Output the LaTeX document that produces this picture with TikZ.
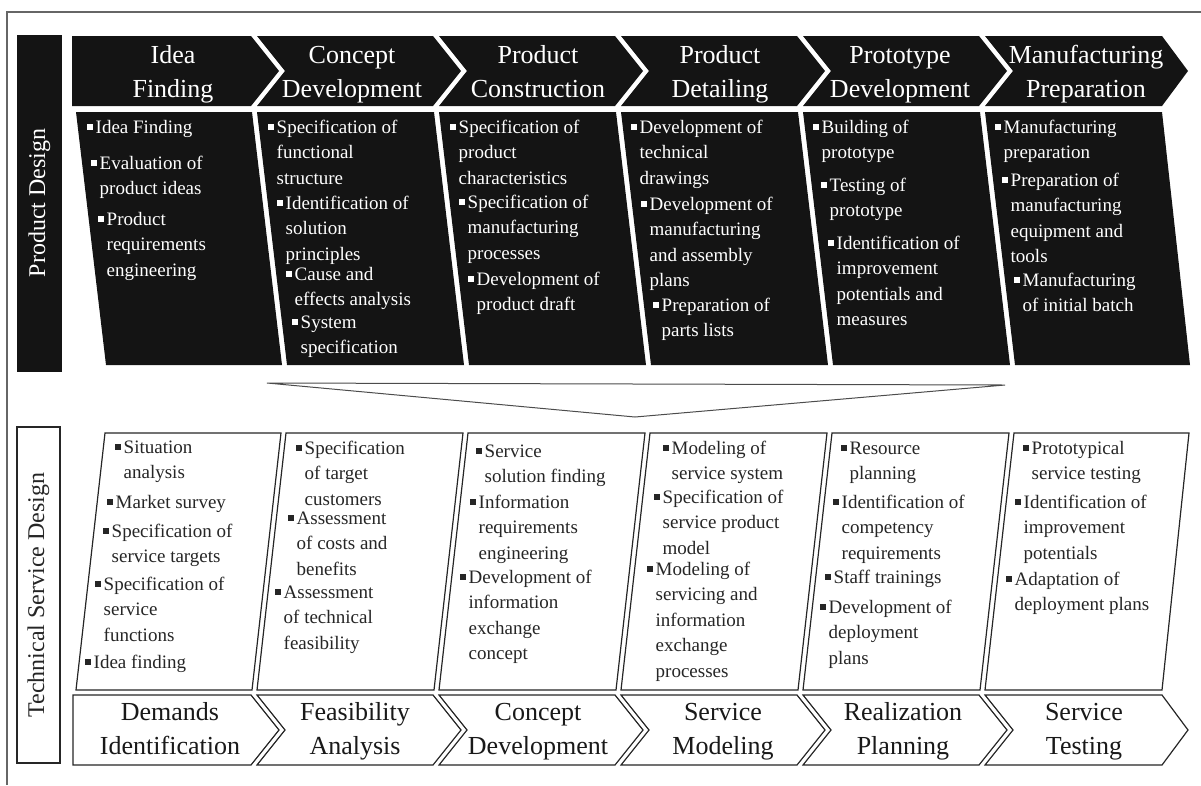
\documentclass[tikz,border=0pt]{standalone}
\usepackage{fontspec}
\setmainfont{Liberation Serif}
\newcommand{\sq}{\rule[3.5pt]{6pt}{6pt}\hspace{2.5pt}}
\newcommand{\lns}[2][l]{\begin{tabular}[t]{@{}#1@{}}#2\end{tabular}}
\tikzset{
  pdshape/.style={fill=black!92},
  tsdshape/.style={fill=white, draw=black!85, line width=1.2pt},
  pdhead/.style={text=white, anchor=base, inner sep=0pt, font=\fontsize{26}{34}\selectfont},
  tsdhead/.style={pdhead, text=black!90},
  pditem/.style={text=white, anchor=base west, inner sep=0pt, font=\fontsize{19}{25.6}\selectfont},
  tsditem/.style={pditem, text=black!85},
  sidelab/.style={rotate=90, inner sep=0pt, font=\fontsize{24}{28}\selectfont}
}
\begin{document}
\begin{tikzpicture}[x=1pt,y=-1pt]
  \useasboundingbox (0,0) rectangle (1201,785);
  \draw[black!60, line width=1.2pt] (7,785) -- (7,12) -- (1201,12);

  % product design
  \fill[pdshape] (17,35) rectangle (62,372);
  \node[sidelab, text=white] (pdlab) at (39.5,203) {Product Design};

  \fill[pdshape] (72,36) -- (251,36) -- (279,71) -- (251,106) -- (72,106) -- cycle;
  \fill[pdshape] (257,36) -- (433,36) -- (461,71) -- (433,106) -- (257,106) -- (285,71) -- cycle;
  \fill[pdshape] (439,36) -- (615,36) -- (643,71) -- (615,106) -- (439,106) -- (467,71) -- cycle;
  \fill[pdshape] (621,36) -- (797,36) -- (825,71) -- (797,106) -- (621,106) -- (649,71) -- cycle;
  \fill[pdshape] (803,36) -- (979,36) -- (1007,71) -- (979,106) -- (803,106) -- (831,71) -- cycle;
  \fill[pdshape] (985,36) -- (1162,36) -- (1188,71) -- (1162,106) -- (985,106) -- (1013,71) -- cycle;

  \node[pdhead] (ph1) at (173,63) {\lns[c]{Idea\\Finding}};
  \node[pdhead] (ph2) at (352,63) {\lns[c]{Concept\\Development}};
  \node[pdhead] (ph3) at (538,63) {\lns[c]{Product\\Construction}};
  \node[pdhead] (ph4) at (720,63) {\lns[c]{Product\\Detailing}};
  \node[pdhead] (ph5) at (900,63) {\lns[c]{Prototype\\Development}};
  \node[pdhead] (ph6) at (1086,63) {\lns[c]{Manufacturing\\Preparation}};

  \fill[pdshape] (76,112) -- (252,112) -- (282,365) -- (106,365) -- cycle;
  \fill[pdshape] (257,112) -- (434,112) -- (464,365) -- (287,365) -- cycle;
  \fill[pdshape] (439,112) -- (616,112) -- (646,365) -- (469,365) -- cycle;
  \fill[pdshape] (621,112) -- (798,112) -- (828,365) -- (651,365) -- cycle;
  \fill[pdshape] (803,112) -- (980,112) -- (1010,365) -- (833,365) -- cycle;
  \fill[pdshape] (985,112) -- (1162,112) -- (1190,365) -- (1015,365) -- cycle;

  \node[pditem] (p1a) at (87,133) {\sq\lns{Idea Finding}};
  \node[pditem] (p1b) at (91,169) {\sq\lns{Evaluation of\\product ideas}};
  \node[pditem] (p1c) at (98,225) {\sq\lns{Product\\requirements\\engineering}};

  \node[pditem] (p2a) at (268,133) {\sq\lns{Specification of\\functional\\structure}};
  \node[pditem] (p2b) at (277,209) {\sq\lns{Identification of\\solution\\principles}};
  \node[pditem] (p2c) at (286,280) {\sq\lns{Cause and\\effects analysis}};
  \node[pditem] (p2d) at (292,328) {\sq\lns{System\\specification}};

  \node[pditem] (p3a) at (450,133) {\sq\lns{Specification of\\product\\characteristics}};
  \node[pditem] (p3b) at (459,208) {\sq\lns{Specification of\\manufacturing\\processes}};
  \node[pditem] (p3c) at (468,285) {\sq\lns{Development of\\product draft}};

  \node[pditem] (p4a) at (631,133) {\sq\lns{Development of\\technical\\drawings}};
  \node[pditem] (p4b) at (641,210) {\sq\lns{Development of\\manufacturing\\and assembly\\plans}};
  \node[pditem] (p4c) at (653,311) {\sq\lns{Preparation of\\parts lists}};

  \node[pditem] (p5a) at (813,133) {\sq\lns{Building of\\prototype}};
  \node[pditem] (p5b) at (821,191) {\sq\lns{Testing of\\prototype}};
  \node[pditem] (p5c) at (828,249) {\sq\lns{Identification of\\improvement\\potentials and\\measures}};

  \node[pditem] (p6a) at (995,133) {\sq\lns{Manufacturing\\preparation}};
  \node[pditem] (p6b) at (1002,186) {\sq\lns{Preparation of\\manufacturing\\equipment and\\tools}};
  \node[pditem] (p6c) at (1014,286) {\sq\lns{Manufacturing\\of initial batch}};

  % funnel
  \draw[black!70, line width=1pt] (267,383) -- (1005,385) -- (635,417) -- cycle;

  % technical service design
  \draw[black!85, line width=1.2pt] (17,427) rectangle (60,763);
  \node[sidelab, text=black!85] (tsdlab) at (38.5,595) {Technical Service Design};

  \draw[tsdshape] (105,433) -- (281,433) -- (252,690) -- (76,690) -- cycle;
  \draw[tsdshape] (286,433) -- (463,433) -- (434,690) -- (257,690) -- cycle;
  \draw[tsdshape] (468,433) -- (645,433) -- (616,690) -- (439,690) -- cycle;
  \draw[tsdshape] (650,433) -- (827,433) -- (798,690) -- (621,690) -- cycle;
  \draw[tsdshape] (832,433) -- (1009,433) -- (980,690) -- (803,690) -- cycle;
  \draw[tsdshape] (1014,433) -- (1189,433) -- (1162,690) -- (985,690) -- cycle;

  \node[tsditem] (t1a) at (115,453) {\sq\lns{Situation\\analysis}};
  \node[tsditem] (t1b) at (107,508) {\sq\lns{Market survey}};
  \node[tsditem] (t1c) at (103,537) {\sq\lns{Specification of\\service targets}};
  \node[tsditem] (t1d) at (95,590) {\sq\lns{Specification of\\service\\functions}};
  \node[tsditem] (t1e) at (85,668) {\sq\lns{Idea finding}};

  \node[tsditem] (t2a) at (296,454) {\sq\lns{Specification\\of target\\customers}};
  \node[tsditem] (t2b) at (288,524) {\sq\lns{Assessment\\of costs and\\benefits}};
  \node[tsditem] (t2c) at (275,598) {\sq\lns{Assessment\\of technical\\feasibility}};

  \node[tsditem] (t3a) at (476,457) {\sq\lns{Service\\solution finding}};
  \node[tsditem] (t3b) at (470,508) {\sq\lns{Information\\requirements\\engineering}};
  \node[tsditem] (t3c) at (460,583) {\sq\lns{Development of\\information\\exchange\\concept}};

  \node[tsditem] (t4a) at (663,454) {\sq\lns{Modeling of\\service system}};
  \node[tsditem] (t4b) at (654,503) {\sq\lns{Specification of\\service product\\model}};
  \node[tsditem] (t4c) at (647,575) {\sq\lns{Modeling of\\servicing and\\information\\exchange\\processes}};

  \node[tsditem] (t5a) at (841,454) {\sq\lns{Resource\\planning}};
  \node[tsditem] (t5b) at (833,508) {\sq\lns{Identification of\\competency\\requirements}};
  \node[tsditem] (t5c) at (825,583) {\sq\lns{Staff trainings}};
  \node[tsditem] (t5d) at (820,613) {\sq\lns{Development of\\deployment\\plans}};

  \node[tsditem] (t6a) at (1023,454) {\sq\lns{Prototypical\\service testing}};
  \node[tsditem] (t6b) at (1015,508) {\sq\lns{Identification of\\improvement\\potentials}};
  \node[tsditem] (t6c) at (1006,585) {\sq\lns{Adaptation of\\deployment plans}};

  \draw[tsdshape] (73,695) -- (251,695) -- (279,730) -- (251,765) -- (73,765) -- cycle;
  \draw[tsdshape] (257,695) -- (433,695) -- (461,730) -- (433,765) -- (257,765) -- (285,730) -- cycle;
  \draw[tsdshape] (439,695) -- (615,695) -- (643,730) -- (615,765) -- (439,765) -- (467,730) -- cycle;
  \draw[tsdshape] (621,695) -- (797,695) -- (825,730) -- (797,765) -- (621,765) -- (649,730) -- cycle;
  \draw[tsdshape] (803,695) -- (979,695) -- (1007,730) -- (979,765) -- (803,765) -- (831,730) -- cycle;
  \draw[tsdshape] (985,695) -- (1162,695) -- (1188,730) -- (1162,765) -- (985,765) -- (1013,730) -- cycle;

  \node[tsdhead] (th1) at (170,720) {\lns[c]{Demands\\Identification}};
  \node[tsdhead] (th2) at (355,720) {\lns[c]{Feasibility\\Analysis}};
  \node[tsdhead] (th3) at (538,720) {\lns[c]{Concept\\Development}};
  \node[tsdhead] (th4) at (723,720) {\lns[c]{Service\\Modeling}};
  \node[tsdhead] (th5) at (903,720) {\lns[c]{Realization\\Planning}};
  \node[tsdhead] (th6) at (1084,720) {\lns[c]{Service\\Testing}};
\end{tikzpicture}
\end{document}
